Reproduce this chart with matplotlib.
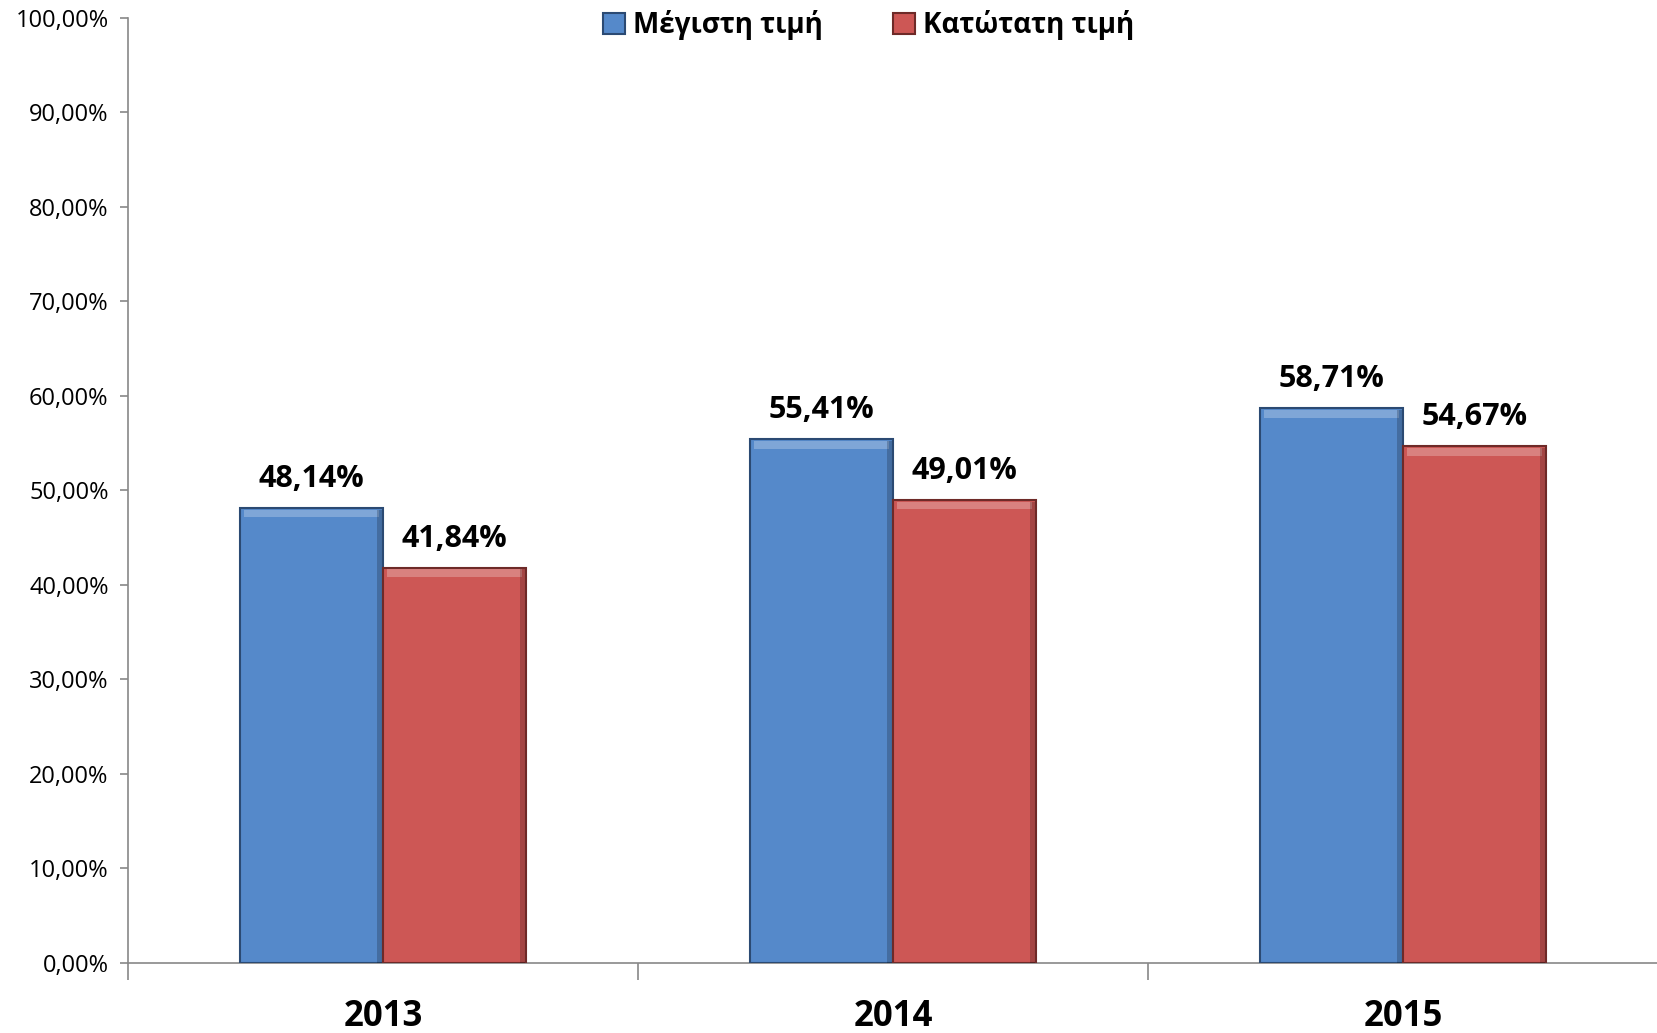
import numpy as np
import matplotlib
matplotlib.use("Agg")
import matplotlib.pyplot as plt

plt.rcParams['font.family'] = ['Open Sans', 'DejaVu Sans']

years = ['2013', '2014', '2015']
max_vals = [48.14, 55.41, 58.71]
min_vals = [41.84, 49.01, 54.67]
series_names = ['Μέγιστη τιμή', 'Κατώτατη τιμή']
colors = ['#5589CA', '#CD5755']
edges = ['#2B4A73', '#6E2A28']

fig = plt.figure(figsize=(16.58, 10.33), dpi=100)
ax = fig.add_axes([0.0772, 0.0678, 0.9228, 0.9148])

x = np.arange(len(years))
w = 0.28
for i, (vals, c, ec, name) in enumerate(zip([max_vals, min_vals], colors, edges, series_names)):
    bars = ax.bar(x + (i - 0.5) * w, vals, w, color=c, edgecolor=ec, linewidth=1.5, label=name, zorder=3)
    for b, v in zip(bars, vals):
        # bevel look: light strip on top, dark strip on the right
        ax.add_patch(plt.Rectangle((b.get_x() + 0.008, v - 1.0), b.get_width() - 0.016, 0.8,
                                   color='white', alpha=0.25, lw=0, zorder=4))
        ax.add_patch(plt.Rectangle((b.get_x() + b.get_width() - 0.012, 0), 0.010, v - 0.2,
                                   color='black', alpha=0.2, lw=0, zorder=4))
        ax.annotate(f"{v:.2f}%".replace('.', ','), (b.get_x() + b.get_width() / 2, v),
                    xytext=(0, 10), textcoords='offset points', ha='center', va='bottom',
                    fontsize=22, fontweight='bold')

ax.set_xlim(-0.5, len(years) - 0.5)
ax.set_ylim(0, 100)
ax.set_yticks(np.arange(0, 101, 10))
ax.set_yticklabels([f"{t:.2f}%".replace('.', ',') for t in np.arange(0, 101, 10)], fontsize=17)
ax.set_xticks(np.arange(-0.5, len(years), 1.0))
ax.set_xticklabels([])
ax.set_xticks(x, minor=True)
ax.set_xticklabels(years, minor=True, fontsize=25, fontweight='bold')
ax.tick_params(axis='x', which='minor', length=0, pad=26)
ax.tick_params(axis='x', which='major', length=12, color='#888888', width=1.2)
ax.tick_params(axis='y', length=6, color='#888888', width=1.2, pad=8)

for s in ['top', 'right']:
    ax.spines[s].set_visible(False)
for s in ['left', 'bottom']:
    ax.spines[s].set_color('#888888')
    ax.spines[s].set_linewidth(1.2)

leg = ax.legend(loc='upper center', bbox_to_anchor=(0.484, 1.035), ncol=2, frameon=False,
                prop={'size': 20, 'weight': 'bold'}, handlelength=0.8, handleheight=0.8,
                handletextpad=0.3, columnspacing=2.5)

fig.savefig('out.png', dpi=100)
